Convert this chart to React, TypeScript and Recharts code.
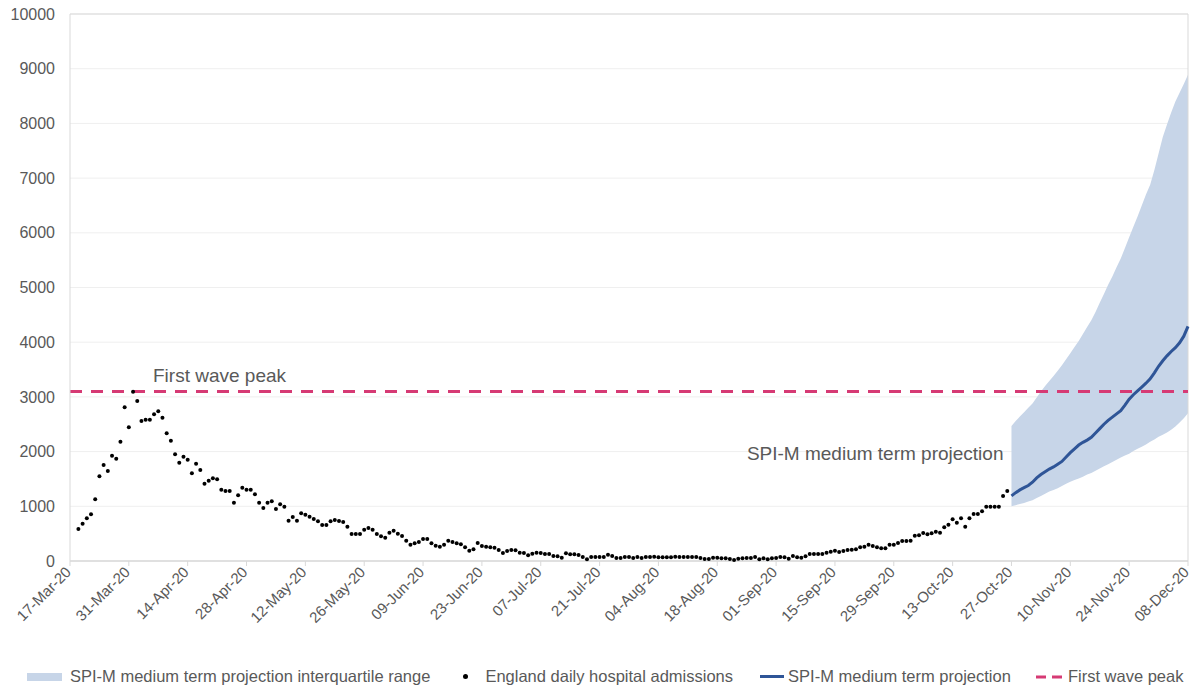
import React from 'react';
import {
  ComposedChart,
  Area,
  Line,
  XAxis,
  YAxis,
  CartesianGrid,
  ReferenceLine,
  ReferenceDot
} from 'recharts';

const tickLabels = [
  '17-Mar-20', '31-Mar-20', '14-Apr-20', '28-Apr-20', '12-May-20', '26-May-20', '09-Jun-20',
  '23-Jun-20', '07-Jul-20', '21-Jul-20', '04-Aug-20', '18-Aug-20', '01-Sep-20', '15-Sep-20',
  '29-Sep-20', '13-Oct-20', '27-Oct-20', '10-Nov-20', '24-Nov-20', '08-Dec-20'
];
const tickDays = tickLabels.map((_, i) => i * 14);
const yTicks = [0, 1000, 2000, 3000, 4000, 5000, 6000, 7000, 8000, 9000, 10000];

// days counted from 17-Mar-20
const admissionsStartDay = 2;
const admissions = [
  585, 682, 780, 853, 1128, 1548, 1755, 1645, 1925, 1870,
  2182, 2810, 2444, 3095, 2925, 2560, 2583, 2583, 2682, 2737,
  2620, 2334, 2200, 1950, 1797, 1907, 1852, 1603, 1779, 1664,
  1413, 1468, 1512, 1494, 1304, 1280, 1280, 1066, 1201, 1340,
  1304, 1304, 1219, 1066, 969, 1066, 1091, 951, 1036, 993,
  737, 804, 737, 872, 847, 810, 768, 725, 658, 658,
  725, 750, 731, 713, 627, 494, 494, 494, 572, 603,
  572, 494, 451, 426, 517, 554, 499, 457, 371, 298,
  323, 347, 402, 402, 323, 280, 261, 298, 371, 347,
  323, 305, 250, 188, 213, 329, 274, 261, 250, 243,
  201, 146, 183, 201, 195, 152, 146, 104, 134, 152,
  146, 128, 128, 91, 85, 61, 140, 122, 122, 110,
  73, 31, 73, 73, 73, 73, 116, 91, 55, 55,
  73, 73, 55, 73, 55, 73, 73, 79, 67, 67,
  67, 67, 79, 73, 73, 73, 73, 73, 55, 37,
  37, 61, 61, 49, 49, 37, 18, 43, 49, 55,
  55, 73, 31, 49, 31, 49, 55, 73, 67, 43,
  91, 67, 61, 85, 128, 128, 128, 128, 152, 171,
  189, 165, 183, 201, 207, 213, 250, 262, 298, 274,
  250, 232, 232, 298, 298, 329, 366, 366, 372, 463,
  469, 512, 488, 506, 536, 518, 616, 664, 762, 701,
  780, 627, 780, 859, 859, 908, 993, 993, 993, 993,
  1188, 1280
];

const projectionStartDay = 224;
const projection = [
  1190, 1250, 1300, 1340, 1380, 1440, 1520, 1580, 1630, 1680,
  1720, 1770, 1820, 1900, 1980, 2050, 2120, 2170, 2210, 2260,
  2340, 2420, 2500, 2570, 2630, 2690, 2750, 2850, 2960, 3040,
  3110, 3180, 3250, 3330, 3440, 3560, 3660, 3750, 3830, 3900,
  3990, 4110, 4290
];
const iqrLow = [
  1000, 1020, 1040, 1060, 1090, 1110, 1150, 1190, 1230, 1270,
  1300, 1330, 1370, 1410, 1450, 1480, 1510, 1540, 1580, 1610,
  1650, 1690, 1730, 1770, 1810, 1850, 1890, 1930, 1960, 2010,
  2050, 2090, 2130, 2180, 2220, 2270, 2310, 2350, 2400, 2460,
  2530, 2610, 2700
];
const iqrHigh = [
  2470, 2560, 2640, 2720, 2800, 2880, 2990, 3100, 3200, 3290,
  3380, 3480, 3580, 3690, 3800, 3910, 4020, 4150, 4280, 4400,
  4550, 4720, 4880, 5050, 5200, 5370, 5530, 5720, 5920, 6110,
  6300, 6500, 6700, 6880, 7150, 7450, 7750, 7980, 8200, 8400,
  8560, 8720, 8890
];
const firstWavePeak = 3100;
const lastDay = 266;

const data = Array.from({ length: lastDay + 1 }, (_, day) => {
  const a = day - admissionsStartDay;
  const p = day - projectionStartDay;
  const inProj = p >= 0 && p < projection.length;
  return {
    day,
    admissions: a >= 0 && a < admissions.length ? admissions[a] : null,
    projection: inProj ? projection[p] : null,
    iqr: inProj ? [iqrLow[p], iqrHigh[p]] : null
  };
});

const FONT = '"Liberation Sans", Arial, sans-serif';
const TEXT = '#595959';
const BAND = '#c7d5e8';
const BLUE = '#2f5597';
const PINK = '#d63a74';
const AXIS = '#d9d9d9';

const DateTick = ({ x, y, payload }: any) => {
  const label = tickLabels[Math.round(payload.value / 14)];
  const tx = x + 2;
  const ty = y + 5;
  return (
    <text
      x={tx}
      y={ty}
      textAnchor="end"
      transform={`rotate(-45, ${tx}, ${ty})`}
      fill={TEXT}
      fontSize={15}
      fontFamily={FONT}
    >
      {label}
    </text>
  );
};

const PeakLabel = ({ viewBox }: any) => (
  <text x={viewBox.x + 83} y={viewBox.y - 9} fill={TEXT} fontSize={19} fontFamily={FONT}>
    First wave peak
  </text>
);

const ProjLabel = ({ viewBox }: any) => (
  <text
    x={viewBox.x - 8}
    y={viewBox.y + 7}
    textAnchor="end"
    fill={TEXT}
    fontSize={19}
    fontFamily={FONT}
  >
    SPI-M medium term projection
  </text>
);

function ChartLegend() {
  const item = { display: 'flex', alignItems: 'center' } as const;
  return (
    <div
      style={{
        position: 'absolute',
        left: 27,
        top: 667,
        display: 'flex',
        alignItems: 'center',
        fontFamily: FONT,
        fontSize: 16.5,
        color: TEXT,
        whiteSpace: 'nowrap'
      }}
    >
      <div style={item}>
        <span style={{ width: 35, height: 8, background: BAND, marginRight: 8 }} />
        SPI-M medium term projection interquartile range
      </div>
      <div style={{ ...item, marginLeft: 33 }}>
        <span style={{ width: 5, height: 5, borderRadius: 3, background: '#000', marginRight: 17 }} />
        England daily hospital admissions
      </div>
      <div style={{ ...item, marginLeft: 27 }}>
        <span style={{ width: 24, height: 3, background: BLUE, marginRight: 4 }} />
        SPI-M medium term projection
      </div>
      <div style={{ ...item, marginLeft: 25 }}>
        <svg width={26} height={4} style={{ marginRight: 6 }}>
          <line x1={0} y1={2} x2={26} y2={2} stroke={PINK} strokeWidth={3} strokeDasharray="10 6" />
        </svg>
        First wave peak
      </div>
    </div>
  );
}

export default function App() {
  return (
    <div style={{ position: 'absolute', left: 0, top: 0, width: 1192, height: 688, background: '#fff' }}>
      <ComposedChart
        width={1192}
        height={688}
        data={data}
        margin={{ top: 14, right: 4, left: 0, bottom: 0 }}
      >
        <CartesianGrid horizontal vertical={false} stroke="#efefef" />
        <XAxis
          dataKey="day"
          type="number"
          domain={[0, lastDay]}
          ticks={tickDays}
          interval={0}
          height={127}
          tick={<DateTick />}
          tickSize={5}
          tickMargin={2}
          tickLine={{ stroke: AXIS }}
          axisLine={{ stroke: AXIS, strokeWidth: 1.5 }}
        />
        <YAxis
          type="number"
          domain={[0, 10000]}
          ticks={yTicks}
          interval={0}
          width={70}
          tickLine={false}
          tickSize={6}
          tickMargin={9}
          axisLine={{ stroke: AXIS }}
          tick={{ fill: TEXT, fontSize: 16, fontFamily: FONT }}
        />
        <ReferenceLine y={10000} stroke={AXIS} />
        <ReferenceLine x={lastDay} stroke={AXIS} />
        <Area
          dataKey="iqr"
          type="linear"
          stroke="none"
          fill={BAND}
          fillOpacity={1}
          isAnimationActive={false}
        />
        <ReferenceLine
          y={firstWavePeak}
          stroke={PINK}
          strokeWidth={3}
          strokeDasharray="12 9"
          label={<PeakLabel />}
        />
        <Line
          dataKey="admissions"
          stroke="none"
          dot={{ r: 2, fill: '#000', stroke: 'none' }}
          activeDot={false}
          isAnimationActive={false}
        />
        <Line
          dataKey="projection"
          type="linear"
          stroke={BLUE}
          strokeWidth={3}
          dot={false}
          activeDot={false}
          isAnimationActive={false}
        />
        <ReferenceDot x={projectionStartDay} y={1974} r={0} fill="none" stroke="none" label={<ProjLabel />} />
      </ComposedChart>
      <ChartLegend />
    </div>
  );
}
